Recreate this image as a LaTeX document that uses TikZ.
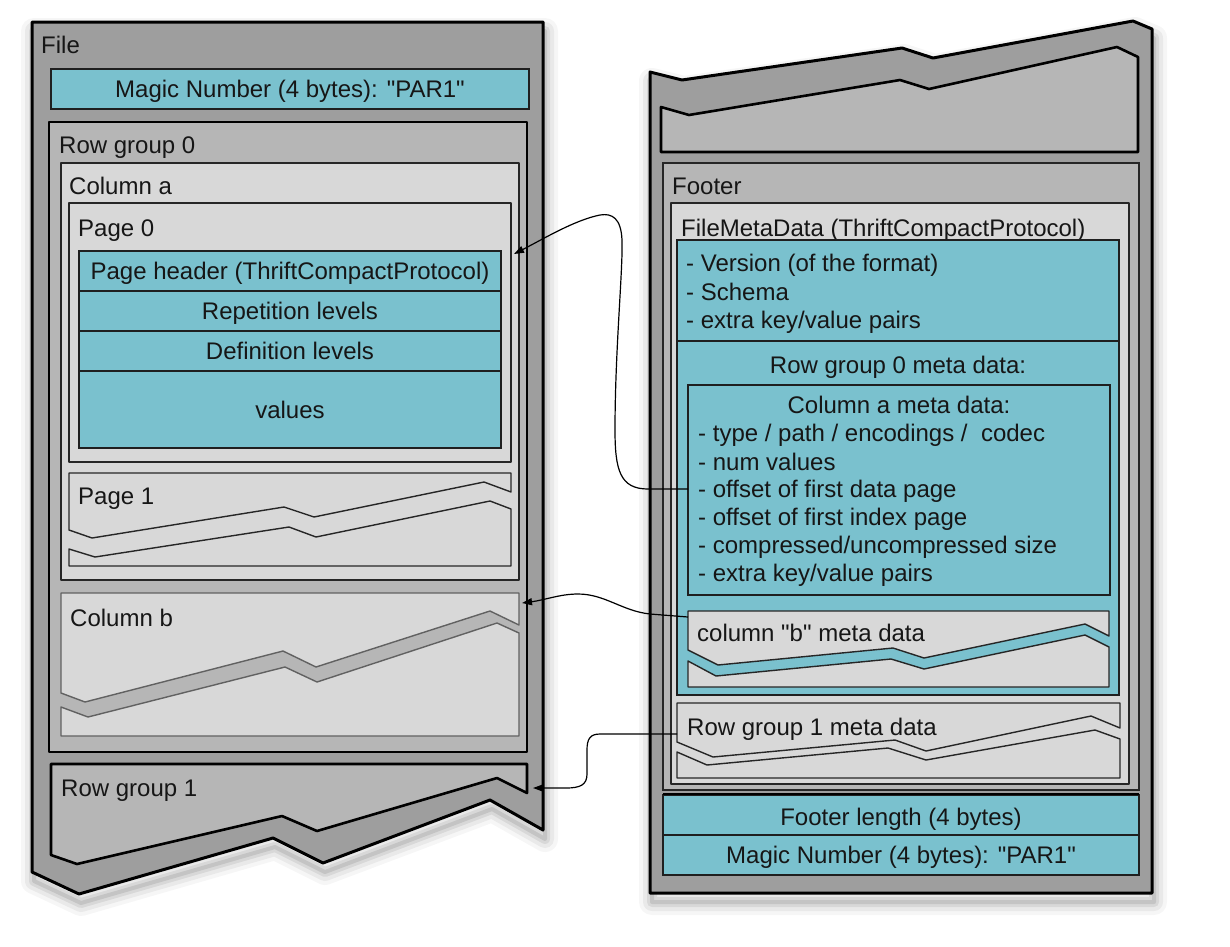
\documentclass[tikz,border=0pt]{standalone}
\usepackage{fontspec}
\setmainfont{Liberation Sans}[Ligatures=TeXOff]
\usetikzlibrary{arrows.meta}
\definecolor{tealc}{RGB}{122,193,206}
\definecolor{gdark}{RGB}{158,158,158}
\definecolor{gmid}{RGB}{182,182,182}
\definecolor{glight}{RGB}{216,216,216}
\definecolor{ink}{RGB}{22,22,22}
\begin{document}
\begin{tikzpicture}[x=1pt,y=-1pt,
  txt/.style={inner sep=0pt, font=\fontsize{24}{28}\selectfont, text=ink},
  lbl/.style={txt, anchor=base west},
  ctr/.style={txt, anchor=base},
  outerbox/.style={draw=black, line width=3pt, fill=gdark, line join=round},
  thickbox/.style={draw=black, line width=2.6pt, fill=gmid, line join=round},
  midbox/.style={draw=black!85, line width=1.4pt, fill=gmid},
  lightbox/.style={draw=black!85, line width=1.4pt, fill=glight, line join=round},
  greybox/.style={draw=black!62, line width=1.4pt, fill=glight, line join=round},
  tealbox/.style={draw=black!88, line width=1.5pt, fill=tealc},
  conn/.style={draw=black, line width=1.2pt, -{Triangle[length=10pt,width=7pt]}},
  glowline/.style={draw=black, line join=round}
]
\useasboundingbox (0,0) rectangle (1230,946);
\fill[white] (0,0) rectangle (1230,946);

% ---------- shadows ----------
\foreach \w/\o in {26/0.035,18/0.05,10/0.07,4/0.09}{
  \draw[glowline, line width=\w pt, draw opacity=\o, shift={(2,9)}]
    (32,22) -- (543,22) -- (543,830) -- (490,800) -- (323,863) -- (273,838) -- (79,894) -- (32,872) -- cycle;
  \draw[glowline, line width=\w pt, draw opacity=\o, shift={(2,9)}]
    (650,72) -- (682,80) -- (902,48) -- (933,58) -- (1133,21) -- (1152,29) -- (1152,893) -- (650,893) -- cycle;
}

% ---------- left panel: File ----------
\draw[outerbox] (32,22) -- (543,22) -- (543,830) -- (490,800) -- (323,863) -- (273,838) -- (79,894) -- (32,872) -- cycle;
\node[lbl] (file) at (41,53) {File};
\draw[tealbox] (51,69) rectangle (529,109);
\node[ctr] (magic1) at (290,97) {Magic Number (4 bytes): "PAR1"};

% Row group 0
\draw[thickbox] (49,122) rectangle (527,752);
\node[lbl] (rg0) at (59,153) {Row group 0};
% Column a
\draw[lightbox] (61,163) rectangle (519,580);
\node[lbl] (cola) at (69,194) {Column a};
% Page 0
\draw[lightbox] (69,203) rectangle (511,462);
\node[lbl] (page0) at (78,236) {Page 0};
\draw[tealbox] (79,251) rectangle (501,291);
\draw[tealbox] (79,291) rectangle (501,331);
\draw[tealbox] (79,331) rectangle (501,371);
\draw[tealbox] (79,371) rectangle (501,448);
\node[ctr] (phdr) at (290,279) {Page header (ThriftCompactProtocol)};
\node[ctr] (rep) at (290,319) {Repetition levels};
\node[ctr] (def) at (290,359) {Definition levels};
\node[ctr] (vals) at (290,418) {values};
% Page 1
\draw[lightbox] (69,473) -- (511,473) -- (511,492) -- (484,482) -- (314,517) -- (284,507) -- (92,538) -- (69,530) -- cycle;
\draw[lightbox] (69,549) -- (95,557) -- (289,527) -- (316,537) -- (490,501) -- (511,509) -- (511,566) -- (69,566) -- cycle;
\node[lbl] (page1) at (78,504) {Page 1};
% Column b
\draw[greybox] (61,593) -- (519,593) -- (519,625) -- (490,611) -- (316,667) -- (283,651) -- (85,702) -- (61,693) -- cycle;
\draw[greybox] (61,707) -- (88,717) -- (285,667) -- (317,682) -- (497,623) -- (519,633) -- (519,736) -- (61,736) -- cycle;
\node[lbl] (colb) at (70,626) {Column b};
% Row group 1
\draw[thickbox] (51,764) -- (527,764) -- (527,793) -- (497,778) -- (317,831) -- (282,816) -- (77,864) -- (51,855) -- cycle;
\node[lbl] (rg1) at (61,796) {Row group 1};

% ---------- right panel ----------
\draw[outerbox] (650,72) -- (682,80) -- (902,48) -- (933,58) -- (1133,21) -- (1152,29) -- (1152,893) -- (650,893) -- cycle;
\draw[thickbox] (661,107) -- (689,115) -- (900,80) -- (929,89) -- (1117,47) -- (1138,57) -- (1138,152) -- (661,152) -- cycle;
% Footer
\draw[midbox] (663,163) rectangle (1139,790);
\node[lbl] (footer) at (672,194) {Footer};
\draw[lightbox] (671,203) rectangle (1129,784);
\node[lbl] (fmd) at (681,236) {FileMetaData (ThriftCompactProtocol)};
\draw[tealbox] (677,240) rectangle (1119,695);
\draw[black!88, line width=1.5pt] (677,341) -- (1119,341);
\node[lbl] (v1) at (686,271) {- Version (of the format)};
\node[lbl] (v2) at (686,300) {- Schema};
\node[lbl] (v3) at (686,328) {- extra key/value pairs};
\node[ctr] (rg0md) at (898,373) {Row group 0 meta data:};
% Column a meta data
\draw[tealbox] (688,385) rectangle (1110,595);
\node[ctr] (camd) at (899,413) {Column a meta data:};
\node[lbl] (m1) at (698,441) {- type / path / encodings / \ codec};
\node[lbl] (m2) at (698,470) {- num values};
\node[lbl] (m3) at (698,497) {- offset of first data page};
\node[lbl] (m4) at (698,525) {- offset of first index page};
\node[lbl] (m5) at (698,553) {- compressed/uncompressed size};
\node[lbl] (m6) at (698,581) {- extra key/value pairs};
% Column b meta data
\draw[lightbox] (688,611) -- (1109,611) -- (1109,636) -- (1085,624) -- (924,658) -- (893,648) -- (718,665) -- (688,650) -- cycle;
\draw[lightbox] (688,661) -- (716,676) -- (891,659) -- (924,669) -- (1085,635) -- (1109,647) -- (1109,687) -- (688,687) -- cycle;
\node[lbl] (cbmd) at (697,641) {column "b" meta data};
% Row group 1 meta data
\draw[lightbox] (677,703) -- (1120,703) -- (1120,728) -- (1091,716) -- (926,751) -- (895,740) -- (713,757) -- (677,742) -- cycle;
\draw[lightbox] (677,752) -- (707,765) -- (888,748) -- (926,760) -- (1095,730) -- (1120,739) -- (1120,778) -- (677,778) -- cycle;
\node[lbl] (rg1md) at (687,735) {Row group 1 meta data};
% Footer length + magic
\draw[tealbox] (663,795) rectangle (1139,835);
\draw[tealbox] (663,835) rectangle (1139,875);
\draw[black, line width=2.4pt] (663,794) -- (1139,794);
\node[ctr] (flen) at (901,825) {Footer length (4 bytes)};
\node[ctr] (magic2) at (901,863) {Magic Number (4 bytes): "PAR1"};

% ---------- connectors ----------
\coordinate (c1s) at (688,489);
\coordinate (c1e) at (514,254);
\coordinate (c2s) at (688,617);
\coordinate (c2e) at (522,603);
\coordinate (c3s) at (677,734);
\coordinate (c3e) at (533,788);
\draw[conn] (c1s) -- (648,489) .. controls (620,489) and (615,470) .. (615,430)
  .. controls (615,350) and (623,270) .. (622,240)
  .. controls (621,218) and (612,213) .. (600,215)
  .. controls (575,220) and (545,238) .. (c1e);
\draw[conn] (c2s) -- (650,614) .. controls (622,611) and (605,594) .. (578,594)
  .. controls (560,594) and (545,600) .. (c2e);
\draw[conn] (c3s) -- (600,734) .. controls (590,734) and (587,739) .. (587,750)
  -- (587,774) .. controls (587,785) and (580,788) .. (566,788) -- (c3e);
\end{tikzpicture}
\end{document}
